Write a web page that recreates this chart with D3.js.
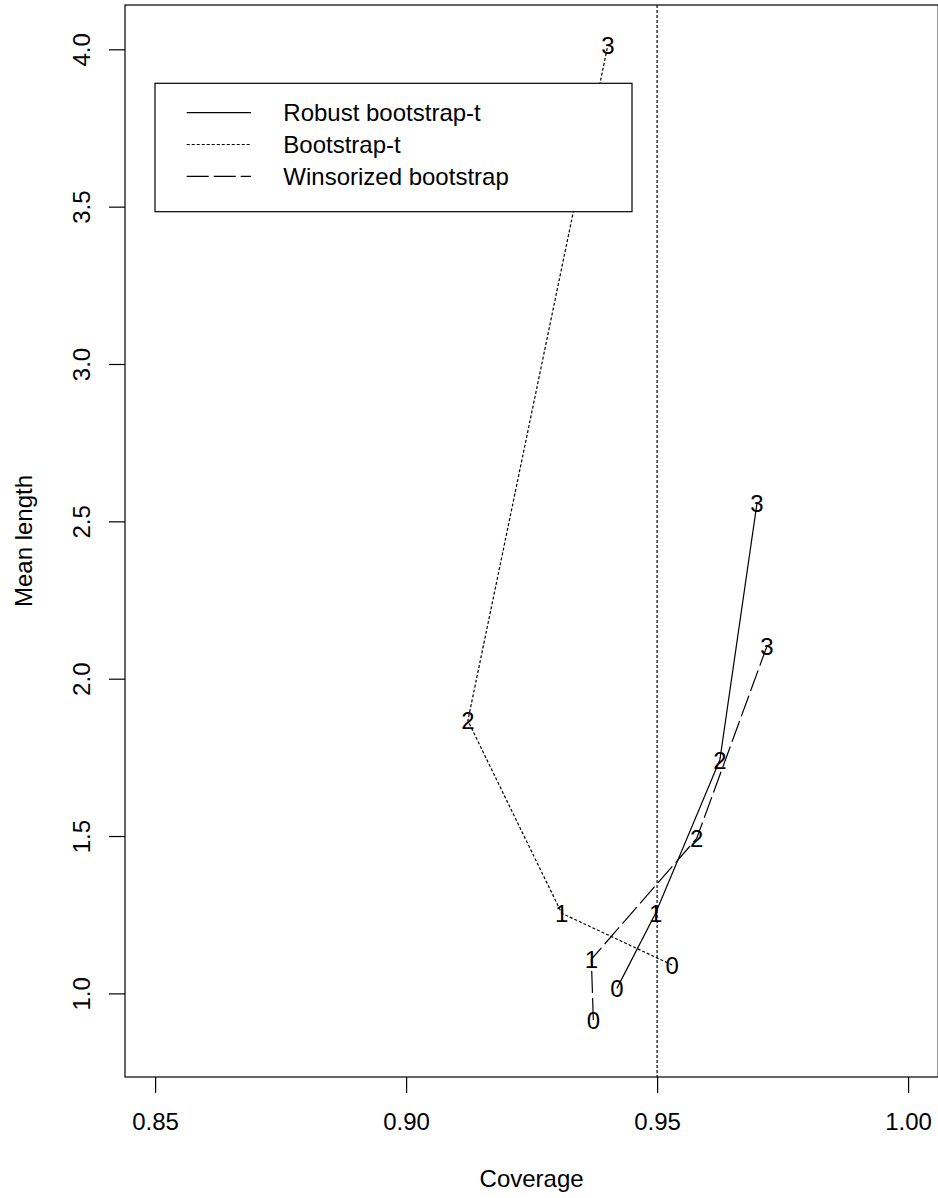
<!DOCTYPE html>
<html>
<head>
<meta charset="utf-8">
<script src="https://cdn.jsdelivr.net/npm/d3@7"></script>
<style>
  html, body { margin: 0; padding: 0; background: #fff; }
  svg { display: block; font-family: "Liberation Sans", Arial, Helvetica, sans-serif; }
</style>
</head>
<body>
<div id="chart"></div>
<script>
// point labels (number of outliers, 0..3)
const levels = ["0", "1", "2", "3"];

// Robust bootstrap-t
const robustCoverage = [0.9420, 0.9497, 0.9625, 0.9699];
const robustLength = [1.016, 1.2545, 1.7417, 2.5574];

// Bootstrap-t
const bootCoverage = [0.9530, 0.9310, 0.9123, 0.9402];
const bootLength = [1.0902, 1.2545, 1.8666, 4.0137];

// Winsorized bootstrap
const winsCoverage = [0.9373, 0.9369, 0.9579, 0.9719];
const winsLength = [0.9155, 1.1083, 1.4928, 2.104];

const seriesNames = ["Robust bootstrap-t", "Bootstrap-t", "Winsorized bootstrap"];
const xTicks = [0.85, 0.90, 0.95, 1.00];
const yTicks = [1.0, 1.5, 2.0, 2.5, 3.0, 3.5, 4.0];
const targetCoverage = 0.95;

const width = 938;
const height = 1198;

// line styles, R lty 1 / 3 / 2
const dashes = [null, "3,2", "22,5"];

const series = [
  { name: seriesNames[0], xs: robustCoverage, ys: robustLength, dash: dashes[0] },
  { name: seriesNames[1], xs: bootCoverage, ys: bootLength, dash: dashes[1] },
  { name: seriesNames[2], xs: winsCoverage, ys: winsLength, dash: dashes[2] }
];

const plot = { left: 125, right: 938.2, top: 5, bottom: 1077 };

const x = d3.scaleLinear().domain([0.844, 1.006]).range([plot.left, plot.right]);
const y = d3.scaleLinear().domain([0.7343, 4.1408]).range([plot.bottom, plot.top]);

const svg = d3
  .select("#chart")
  .append("svg")
  .attr("width", width)
  .attr("height", height);

// bottom axis
const xAxis = svg
  .append("g")
  .attr("transform", `translate(0,${plot.bottom})`)
  .call(d3.axisBottom(x).tickValues(xTicks).tickFormat(d3.format(".2f")).tickSize(16).tickSizeOuter(0));
xAxis.select(".domain").remove();
xAxis.selectAll("line").attr("stroke", "#000").attr("stroke-width", 1.2);
xAxis
  .selectAll("text")
  .attr("y", 53)
  .attr("dy", null)
  .attr("fill", "#000")
  .style("font-size", "24px")
  .style("font-family", '"Liberation Sans", Arial, sans-serif');

// left axis, labels rotated like R's default
const yAxis = svg
  .append("g")
  .attr("transform", `translate(${plot.left},0)`)
  .call(d3.axisLeft(y).tickValues(yTicks).tickFormat(d3.format(".1f")).tickSize(16).tickSizeOuter(0));
yAxis.select(".domain").remove();
yAxis.selectAll("line").attr("stroke", "#000").attr("stroke-width", 1.2);
yAxis
  .selectAll("text")
  .attr("transform", "rotate(-90)")
  .attr("x", 0)
  .attr("y", -35)
  .attr("dy", null)
  .attr("text-anchor", "middle")
  .attr("fill", "#000")
  .style("font-size", "24px")
  .style("font-family", '"Liberation Sans", Arial, sans-serif');

// axis titles
svg
  .append("text")
  .attr("x", (plot.left + plot.right) / 2)
  .attr("y", 1187)
  .attr("text-anchor", "middle")
  .style("font-size", "24px")
  .text("Coverage");

svg
  .append("text")
  .attr("transform", `translate(32,${(plot.top + plot.bottom) / 2}) rotate(-90)`)
  .attr("text-anchor", "middle")
  .style("font-size", "24px")
  .text("Mean length");

// reference line at nominal coverage
svg
  .append("line")
  .attr("x1", x(targetCoverage))
  .attr("x2", x(targetCoverage))
  .attr("y1", plot.top)
  .attr("y2", plot.bottom)
  .attr("stroke", "#000")
  .attr("stroke-width", 1.2)
  .attr("stroke-dasharray", dashes[1]);

const line = d3
  .line()
  .x(d => x(d[0]))
  .y(d => y(d[1]));

series.forEach(s => {
  const pts = s.xs.map((v, i) => [v, s.ys[i]]);
  svg
    .append("path")
    .attr("d", line(pts))
    .attr("fill", "none")
    .attr("stroke", "#000")
    .attr("stroke-width", 1.2)
    .attr("stroke-dasharray", s.dash);

  svg
    .append("g")
    .selectAll("text")
    .data(pts)
    .join("text")
    .attr("x", d => x(d[0]))
    .attr("y", d => y(d[1]))
    .attr("dy", "0.36em")
    .attr("text-anchor", "middle")
    .style("font-size", "24px")
    .text((d, i) => levels[i]);
});

// legend with white background over the lines
const legend = svg.append("g");
legend
  .append("rect")
  .attr("x", 155)
  .attr("y", 83.3)
  .attr("width", 477)
  .attr("height", 128.4)
  .attr("fill", "#fff")
  .attr("stroke", "#000")
  .attr("stroke-width", 1.2);

series.forEach((s, i) => {
  const ly = 112.7 + i * 31.8;
  legend
    .append("line")
    .attr("x1", 186.7)
    .attr("x2", 251)
    .attr("y1", ly)
    .attr("y2", ly)
    .attr("stroke", "#000")
    .attr("stroke-width", 1.2)
    .attr("stroke-dasharray", s.dash);
  legend
    .append("text")
    .attr("x", 283.3)
    .attr("y", ly)
    .attr("dy", "0.36em")
    .style("font-size", "24px")
    .text(s.name);
});

// plot box, drawn last
svg
  .append("rect")
  .attr("x", plot.left)
  .attr("y", plot.top)
  .attr("width", plot.right - plot.left)
  .attr("height", plot.bottom - plot.top)
  .attr("fill", "none")
  .attr("stroke", "#000")
  .attr("stroke-width", 1.2);
</script>
</body>
</html>
